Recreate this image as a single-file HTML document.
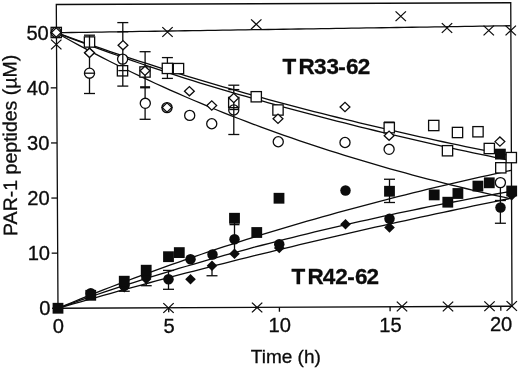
<!DOCTYPE html>
<html><head><meta charset="utf-8"><title>PAR-1 peptides</title>
<style>html,body{margin:0;padding:0;background:#fff}svg{display:block}text{font-family:"Liberation Sans",Arial,Helvetica,sans-serif;fill:#0c0c0c;stroke:#0c0c0c;stroke-width:0.3px}</style></head>
<body>
<svg width="520" height="369" viewBox="0 0 520 369">
<rect width="520" height="369" fill="#fff"/>
<polygon points="56.3,4.5 510.75,2.75 512,306.25 58,308.25" fill="none" stroke="#0c0c0c" stroke-width="1.3"/>
<line x1="52.00" y1="308.25" x2="58.00" y2="308.25" stroke="#0c0c0c" stroke-width="1.3"/>
<text transform="translate(50.40,315.15) scale(1.045,1)" font-size="19.3" text-anchor="end">0</text>
<line x1="51.68" y1="253.15" x2="57.68" y2="253.15" stroke="#0c0c0c" stroke-width="1.3"/>
<text transform="translate(50.08,260.05) scale(1.045,1)" font-size="19.3" text-anchor="end">10</text>
<line x1="51.36" y1="198.05" x2="57.36" y2="198.05" stroke="#0c0c0c" stroke-width="1.3"/>
<text transform="translate(49.76,204.95) scale(1.045,1)" font-size="19.3" text-anchor="end">20</text>
<line x1="51.04" y1="142.95" x2="57.04" y2="142.95" stroke="#0c0c0c" stroke-width="1.3"/>
<text transform="translate(49.44,149.85) scale(1.045,1)" font-size="19.3" text-anchor="end">30</text>
<line x1="50.72" y1="87.85" x2="56.72" y2="87.85" stroke="#0c0c0c" stroke-width="1.3"/>
<text transform="translate(49.12,94.75) scale(1.045,1)" font-size="19.3" text-anchor="end">40</text>
<line x1="50.40" y1="32.75" x2="56.40" y2="32.75" stroke="#0c0c0c" stroke-width="1.3"/>
<text transform="translate(48.80,39.65) scale(1.045,1)" font-size="19.3" text-anchor="end">50</text>
<line x1="58.00" y1="308.25" x2="58.02" y2="312.85" stroke="#0c0c0c" stroke-width="1.3"/>
<text transform="translate(58.30,333.25) scale(1.045,1)" font-size="19.3" text-anchor="middle">0</text>
<line x1="168.70" y1="307.75" x2="168.72" y2="312.35" stroke="#0c0c0c" stroke-width="1.3"/>
<text transform="translate(169.00,332.75) scale(1.045,1)" font-size="19.3" text-anchor="middle">5</text>
<line x1="279.40" y1="307.25" x2="279.42" y2="311.85" stroke="#0c0c0c" stroke-width="1.3"/>
<text transform="translate(279.70,332.25) scale(1.045,1)" font-size="19.3" text-anchor="middle">10</text>
<line x1="390.10" y1="306.75" x2="390.12" y2="311.35" stroke="#0c0c0c" stroke-width="1.3"/>
<text transform="translate(390.40,331.75) scale(1.045,1)" font-size="19.3" text-anchor="middle">15</text>
<line x1="500.80" y1="306.25" x2="500.82" y2="310.85" stroke="#0c0c0c" stroke-width="1.3"/>
<text transform="translate(501.10,331.25) scale(1.045,1)" font-size="19.3" text-anchor="middle">20</text>
<text x="285.8" y="362.6" font-size="19" text-anchor="middle">Time (h)</text>
<text transform="translate(16.7,145.3) rotate(-90.27)" font-size="19.55" text-anchor="middle">PAR-1 peptides (µM)</text>
<text x="282.6" y="74.2" font-size="22.5" font-weight="bold" stroke="none" dx="0 2.2 -0.9 0 -0.6 0.2 -0.9">TR33-62</text>
<text x="291.5" y="283.6" font-size="22.5" font-weight="bold" stroke="none" dx="0 2.2 -0.9 0 -0.6 0.2 -0.9">TR42-62</text>
<polyline points="56.40,32.75 63.96,32.63 71.53,32.52 79.09,32.40 86.66,32.28 94.22,32.17 101.78,32.05 109.35,31.93 116.91,31.82 124.48,31.70 132.04,31.58 139.60,31.47 147.17,31.35 154.73,31.23 162.30,31.11 169.86,31.00 177.42,30.88 184.99,30.76 192.55,30.65 200.12,30.53 207.68,30.41 215.24,30.30 222.81,30.18 230.37,30.06 237.94,29.95 245.50,29.83 253.06,29.71 260.63,29.60 268.19,29.48 275.76,29.36 283.32,29.25 290.88,29.13 298.45,29.01 306.01,28.90 313.58,28.78 321.14,28.66 328.70,28.54 336.27,28.43 343.83,28.31 351.40,28.19 358.96,28.08 366.52,27.96 374.09,27.84 381.65,27.73 389.22,27.61 396.78,27.49 404.34,27.38 411.91,27.26 419.47,27.14 427.04,27.03 434.60,26.91 442.17,26.79 449.73,26.68 457.29,26.56 464.86,26.44 472.42,26.33 479.99,26.21 487.55,26.09 495.11,25.97 502.68,25.86 510.24,25.74" fill="none" stroke="#0c0c0c" stroke-width="1.3" stroke-linejoin="round"/>
<polyline points="56.40,32.75 63.98,35.48 71.56,38.18 79.14,40.85 86.72,43.50 94.30,46.12 101.88,48.71 109.46,51.28 117.04,53.82 124.62,56.33 132.20,58.82 139.78,61.29 147.36,63.73 154.93,66.14 162.51,68.53 170.09,70.89 177.67,73.23 185.25,75.55 192.83,77.85 200.40,80.12 207.98,82.36 215.56,84.59 223.14,86.79 230.71,88.97 238.29,91.13 245.87,93.26 253.45,95.37 261.02,97.47 268.60,99.54 276.18,101.59 283.75,103.61 291.33,105.62 298.91,107.61 306.48,109.58 314.06,111.52 321.63,113.45 329.21,115.36 336.78,117.25 344.36,119.11 351.94,120.96 359.51,122.79 367.09,124.61 374.66,126.40 382.24,128.17 389.81,129.93 397.39,131.67 404.96,133.39 412.54,135.10 420.11,136.78 427.68,138.45 435.26,140.10 442.83,141.74 450.41,143.36 457.98,144.96 465.55,146.54 473.13,148.11 480.70,149.66 488.28,151.20 495.85,152.72 503.42,154.23 511.00,155.72" fill="none" stroke="#0c0c0c" stroke-width="1.3" stroke-linejoin="round"/>
<polyline points="56.40,32.80 63.98,35.70 71.56,38.57 79.14,41.41 86.73,44.23 94.31,47.02 101.89,49.79 109.47,52.53 117.05,55.25 124.63,57.94 132.21,60.61 139.79,63.24 147.37,65.84 154.95,68.40 162.53,70.93 170.11,73.43 177.69,75.88 185.26,78.30 192.84,80.68 200.42,83.03 208.00,85.34 215.58,87.61 223.16,89.86 230.73,92.08 238.31,94.28 245.89,96.45 253.46,98.60 261.04,100.74 268.62,102.85 276.20,104.94 283.77,107.02 291.35,109.08 298.93,111.12 306.50,113.15 314.08,115.15 321.65,117.14 329.23,119.11 336.81,121.05 344.38,122.98 351.96,124.89 359.53,126.78 367.11,128.65 374.69,130.50 382.26,132.32 389.84,134.13 397.41,135.92 404.99,137.70 412.56,139.45 420.14,141.18 427.71,142.89 435.28,144.59 442.86,146.27 450.43,147.93 458.01,149.57 465.58,151.19 473.16,152.80 480.73,154.39 488.30,155.96 495.88,157.52 503.45,159.05 511.02,160.57" fill="none" stroke="#0c0c0c" stroke-width="1.3" stroke-linejoin="round"/>
<polyline points="56.40,32.75 63.99,37.01 71.58,41.21 79.17,45.34 86.76,49.40 94.34,53.40 101.93,57.34 109.52,61.21 117.11,65.03 124.69,68.78 132.28,72.48 139.86,76.11 147.45,79.69 155.03,83.22 162.62,86.69 170.20,90.10 177.79,93.46 185.37,96.76 192.96,100.02 200.54,103.22 208.12,106.38 215.70,109.48 223.29,112.53 230.87,115.54 238.45,118.50 246.03,121.41 253.61,124.28 261.19,127.10 268.78,129.87 276.36,132.61 283.94,135.29 291.52,137.94 299.10,140.55 306.68,143.11 314.26,145.63 321.83,148.12 329.41,150.56 336.99,152.97 344.57,155.34 352.15,157.67 359.73,159.96 367.30,162.22 374.88,164.44 382.46,166.62 390.04,168.77 397.61,170.89 405.19,172.98 412.77,175.03 420.34,177.04 427.92,179.03 435.50,180.99 443.07,182.91 450.65,184.80 458.22,186.67 465.80,188.50 473.37,190.30 480.95,192.08 488.52,193.83 496.10,195.55 503.67,197.24 511.25,198.90" fill="none" stroke="#0c0c0c" stroke-width="1.3" stroke-linejoin="round"/>
<polyline points="58.00,308.25 65.55,305.11 73.09,302.01 80.64,298.94 88.19,295.91 95.73,292.91 103.28,289.94 110.83,287.01 118.38,284.11 125.93,281.24 133.47,278.40 141.02,275.60 148.57,272.82 156.12,270.08 163.67,267.37 171.22,264.68 178.77,262.03 186.32,259.41 193.87,256.82 201.42,254.25 208.97,251.71 216.52,249.21 224.07,246.73 231.62,244.27 239.17,241.85 246.72,239.45 254.27,237.08 261.82,234.73 269.37,232.42 276.92,230.12 284.47,227.85 292.03,225.61 299.58,223.39 307.13,221.20 314.68,219.03 322.23,216.89 329.79,214.77 337.34,212.67 344.89,210.60 352.44,208.54 360.00,206.52 367.55,204.51 375.10,202.53 382.66,200.56 390.21,198.63 397.76,196.71 405.32,194.81 412.87,192.93 420.43,191.08 427.98,189.24 435.53,187.43 443.09,185.63 450.64,183.86 458.20,182.11 465.75,180.37 473.31,178.65 480.86,176.96 488.42,175.28 495.97,173.62 503.53,171.98 511.08,170.35" fill="none" stroke="#0c0c0c" stroke-width="1.3" stroke-linejoin="round"/>
<polyline points="58.00,308.25 65.55,305.54 73.10,302.85 80.65,300.20 88.20,297.59 95.75,295.00 103.30,292.44 110.85,289.92 118.40,287.42 125.95,284.96 133.50,282.52 141.05,280.11 148.60,277.73 156.15,275.38 163.70,273.06 171.25,270.76 178.80,268.49 186.36,266.25 193.91,264.04 201.46,261.85 209.01,259.69 216.56,257.55 224.12,255.44 231.67,253.35 239.22,251.29 246.77,249.26 254.33,247.24 261.88,245.25 269.43,243.29 276.99,241.35 284.54,239.43 292.09,237.53 299.65,235.66 307.20,233.80 314.76,231.97 322.31,230.17 329.87,228.38 337.42,226.61 344.97,224.87 352.53,223.14 360.08,221.44 367.64,219.76 375.19,218.09 382.75,216.45 390.30,214.82 397.86,213.22 405.42,211.63 412.97,210.06 420.53,208.51 428.08,206.98 435.64,205.47 443.19,203.97 450.75,202.50 458.31,201.04 465.86,199.59 473.42,198.17 480.98,196.76 488.53,195.36 496.09,193.99 503.65,192.63 511.20,191.28" fill="none" stroke="#0c0c0c" stroke-width="1.3" stroke-linejoin="round"/>
<polyline points="58.00,308.25 65.55,306.08 73.10,303.91 80.66,301.77 88.21,299.63 95.76,297.51 103.31,295.40 110.87,293.30 118.42,291.21 125.97,289.14 133.52,287.08 141.08,285.03 148.63,283.00 156.18,280.97 163.74,278.96 171.29,276.96 178.84,274.97 186.40,272.99 193.95,271.03 201.50,269.08 209.06,267.14 216.61,265.21 224.16,263.29 231.72,261.38 239.27,259.48 246.82,257.60 254.38,255.73 261.93,253.86 269.48,252.01 277.04,250.17 284.59,248.34 292.15,246.53 299.70,244.72 307.26,242.92 314.81,241.14 322.36,239.36 329.92,237.60 337.47,235.84 345.03,234.10 352.58,232.36 360.14,230.64 367.69,228.93 375.25,227.22 382.80,225.53 390.36,223.85 397.91,222.17 405.47,220.51 413.02,218.86 420.58,217.21 428.13,215.58 435.69,213.96 443.24,212.34 450.80,210.74 458.35,209.14 465.91,207.55 473.46,205.98 481.02,204.41 488.58,202.85 496.13,201.30 503.69,199.76 511.24,198.23" fill="none" stroke="#0c0c0c" stroke-width="1.3" stroke-linejoin="round"/>
<circle cx="56.25" cy="32.50" r="5.05" fill="#fff" stroke="none"/>
<circle cx="89.50" cy="73.20" r="5.05" fill="#fff" stroke="none"/>
<circle cx="122.60" cy="59.10" r="5.05" fill="#fff" stroke="none"/>
<circle cx="145.30" cy="103.30" r="5.05" fill="#fff" stroke="none"/>
<circle cx="167.00" cy="107.60" r="5.05" fill="#fff" stroke="none"/>
<circle cx="189.70" cy="115.40" r="5.05" fill="#fff" stroke="none"/>
<circle cx="211.75" cy="123.75" r="5.05" fill="#fff" stroke="none"/>
<circle cx="233.75" cy="110.00" r="5.05" fill="#fff" stroke="none"/>
<circle cx="278.25" cy="141.75" r="5.05" fill="#fff" stroke="none"/>
<circle cx="345.00" cy="142.50" r="5.05" fill="#fff" stroke="none"/>
<circle cx="389.10" cy="149.30" r="5.05" fill="#fff" stroke="none"/>
<circle cx="500.40" cy="182.60" r="5.05" fill="#fff" stroke="none"/>
<polygon points="51.35,32.50 56.25,27.90 61.15,32.50 56.25,37.10" fill="#fff" stroke="none"/>
<polygon points="84.60,52.80 89.50,48.20 94.40,52.80 89.50,57.40" fill="#fff" stroke="none"/>
<polygon points="118.10,45.20 123.00,40.60 127.90,45.20 123.00,49.80" fill="#fff" stroke="none"/>
<polygon points="140.10,70.80 145.00,66.20 149.90,70.80 145.00,75.40" fill="#fff" stroke="none"/>
<polygon points="162.10,107.50 167.00,102.90 171.90,107.50 167.00,112.10" fill="#fff" stroke="none"/>
<polygon points="184.50,91.20 189.40,86.60 194.30,91.20 189.40,95.80" fill="#fff" stroke="none"/>
<polygon points="206.85,105.50 211.75,100.90 216.65,105.50 211.75,110.10" fill="#fff" stroke="none"/>
<polygon points="228.85,98.00 233.75,93.40 238.65,98.00 233.75,102.60" fill="#fff" stroke="none"/>
<polygon points="273.10,118.75 278.00,114.15 282.90,118.75 278.00,123.35" fill="#fff" stroke="none"/>
<polygon points="340.10,107.00 345.00,102.40 349.90,107.00 345.00,111.60" fill="#fff" stroke="none"/>
<polygon points="384.20,135.70 389.10,131.10 394.00,135.70 389.10,140.30" fill="#fff" stroke="none"/>
<polygon points="495.00,141.60 499.90,137.00 504.80,141.60 499.90,146.20" fill="#fff" stroke="none"/>
<rect x="51.10" y="27.35" width="10.3" height="10.3" fill="#fff" stroke="none"/>
<rect x="84.35" y="36.85" width="10.3" height="10.3" fill="#fff" stroke="none"/>
<rect x="117.35" y="65.65" width="10.3" height="10.3" fill="#fff" stroke="none"/>
<rect x="139.85" y="66.85" width="10.3" height="10.3" fill="#fff" stroke="none"/>
<rect x="162.25" y="63.25" width="10.3" height="10.3" fill="#fff" stroke="none"/>
<rect x="173.35" y="63.45" width="10.3" height="10.3" fill="#fff" stroke="none"/>
<rect x="228.60" y="97.35" width="10.3" height="10.3" fill="#fff" stroke="none"/>
<rect x="251.10" y="91.60" width="10.3" height="10.3" fill="#fff" stroke="none"/>
<rect x="272.85" y="104.85" width="10.3" height="10.3" fill="#fff" stroke="none"/>
<rect x="384.10" y="122.55" width="10.3" height="10.3" fill="#fff" stroke="none"/>
<rect x="428.60" y="120.35" width="10.3" height="10.3" fill="#fff" stroke="none"/>
<rect x="452.35" y="127.35" width="10.3" height="10.3" fill="#fff" stroke="none"/>
<rect x="472.85" y="126.60" width="10.3" height="10.3" fill="#fff" stroke="none"/>
<rect x="442.35" y="145.60" width="10.3" height="10.3" fill="#fff" stroke="none"/>
<rect x="484.15" y="143.35" width="10.3" height="10.3" fill="#fff" stroke="none"/>
<rect x="506.15" y="152.45" width="10.3" height="10.3" fill="#fff" stroke="none"/>
<rect x="495.65" y="162.65" width="10.3" height="10.3" fill="#fff" stroke="none"/>
<line x1="89.5" y1="35.2" x2="89.5" y2="68" stroke="#0c0c0c" stroke-width="1.3"/>
<line x1="84.0" y1="35.2" x2="95.0" y2="35.2" stroke="#0c0c0c" stroke-width="1.3"/>
<line x1="89.5" y1="78.4" x2="89.5" y2="93.5" stroke="#0c0c0c" stroke-width="1.3"/>
<line x1="84.0" y1="73.2" x2="95.0" y2="73.2" stroke="#0c0c0c" stroke-width="1.3"/>
<line x1="84.0" y1="93.5" x2="95.0" y2="93.5" stroke="#0c0c0c" stroke-width="1.3"/>
<line x1="122.8" y1="22.6" x2="122.8" y2="86.1" stroke="#0c0c0c" stroke-width="1.3"/>
<line x1="117.3" y1="22.6" x2="128.3" y2="22.6" stroke="#0c0c0c" stroke-width="1.3"/>
<line x1="117.3" y1="31.8" x2="128.3" y2="31.8" stroke="#0c0c0c" stroke-width="1.3"/>
<line x1="118.3" y1="70.6" x2="127.3" y2="70.6" stroke="#0c0c0c" stroke-width="1.3"/>
<line x1="117.3" y1="86.1" x2="128.3" y2="86.1" stroke="#0c0c0c" stroke-width="1.3"/>
<line x1="145.1" y1="51.7" x2="145.1" y2="119.3" stroke="#0c0c0c" stroke-width="1.3"/>
<line x1="139.6" y1="51.7" x2="150.6" y2="51.7" stroke="#0c0c0c" stroke-width="1.3"/>
<line x1="140.1" y1="87.3" x2="150.1" y2="87.3" stroke="#0c0c0c" stroke-width="2.2"/>
<line x1="139.6" y1="119.3" x2="150.6" y2="119.3" stroke="#0c0c0c" stroke-width="1.3"/>
<line x1="167.4" y1="57.6" x2="167.4" y2="78.4" stroke="#0c0c0c" stroke-width="1.3"/>
<line x1="161.9" y1="57.6" x2="172.9" y2="57.6" stroke="#0c0c0c" stroke-width="1.3"/>
<line x1="161.9" y1="78.4" x2="172.9" y2="78.4" stroke="#0c0c0c" stroke-width="1.3"/>
<line x1="233.8" y1="85.2" x2="233.8" y2="134.5" stroke="#0c0c0c" stroke-width="1.3"/>
<line x1="228.3" y1="85.2" x2="239.3" y2="85.2" stroke="#0c0c0c" stroke-width="1.3"/>
<line x1="228.3" y1="89.6" x2="239.3" y2="89.6" stroke="#0c0c0c" stroke-width="1.3"/>
<line x1="229.3" y1="109.5" x2="238.3" y2="109.5" stroke="#0c0c0c" stroke-width="1.3"/>
<line x1="228.3" y1="134.5" x2="239.3" y2="134.5" stroke="#0c0c0c" stroke-width="1.3"/>
<line x1="389.25" y1="122.3" x2="389.25" y2="123" stroke="#0c0c0c" stroke-width="1.3"/>
<line x1="384.0" y1="122.3" x2="394.5" y2="122.3" stroke="#0c0c0c" stroke-width="1.6"/>
<line x1="124.25" y1="281" x2="124.25" y2="291.25" stroke="#0c0c0c" stroke-width="1.3"/>
<line x1="118.75" y1="291.25" x2="129.75" y2="291.25" stroke="#0c0c0c" stroke-width="1.3"/>
<line x1="146.2" y1="270" x2="146.2" y2="285.7" stroke="#0c0c0c" stroke-width="1.3"/>
<line x1="140.7" y1="285.7" x2="151.7" y2="285.7" stroke="#0c0c0c" stroke-width="1.3"/>
<line x1="168.5" y1="270.4" x2="168.5" y2="289.3" stroke="#0c0c0c" stroke-width="1.3"/>
<line x1="163.0" y1="270.4" x2="174.0" y2="270.4" stroke="#0c0c0c" stroke-width="1.3"/>
<line x1="163.0" y1="289.3" x2="174.0" y2="289.3" stroke="#0c0c0c" stroke-width="1.3"/>
<line x1="212" y1="265.75" x2="212" y2="275.75" stroke="#0c0c0c" stroke-width="1.3"/>
<line x1="206.5" y1="275.75" x2="217.5" y2="275.75" stroke="#0c0c0c" stroke-width="1.3"/>
<line x1="234.5" y1="218" x2="234.5" y2="254" stroke="#0c0c0c" stroke-width="1.3"/>
<line x1="229.5" y1="224.5" x2="239.5" y2="224.5" stroke="#0c0c0c" stroke-width="1.6"/>
<line x1="389.5" y1="179.25" x2="389.5" y2="202.5" stroke="#0c0c0c" stroke-width="1.3"/>
<line x1="384.0" y1="179.25" x2="395.0" y2="179.25" stroke="#0c0c0c" stroke-width="1.3"/>
<line x1="384.0" y1="202.5" x2="395.0" y2="202.5" stroke="#0c0c0c" stroke-width="1.3"/>
<line x1="500.4" y1="182.5" x2="500.4" y2="223.25" stroke="#0c0c0c" stroke-width="1.3"/>
<line x1="494.9" y1="200.5" x2="505.9" y2="200.5" stroke="#0c0c0c" stroke-width="1.3"/>
<line x1="494.9" y1="223.25" x2="505.9" y2="223.25" stroke="#0c0c0c" stroke-width="1.3"/>
<circle cx="56.25" cy="32.50" r="5.05" fill="none" stroke="#0c0c0c" stroke-width="1.3"/>
<circle cx="89.50" cy="73.20" r="5.05" fill="none" stroke="#0c0c0c" stroke-width="1.3"/>
<circle cx="122.60" cy="59.10" r="5.05" fill="none" stroke="#0c0c0c" stroke-width="1.3"/>
<circle cx="145.30" cy="103.30" r="5.05" fill="#fff" stroke="#0c0c0c" stroke-width="1.3"/>
<circle cx="167.00" cy="107.60" r="5.05" fill="none" stroke="#0c0c0c" stroke-width="1.3"/>
<circle cx="189.70" cy="115.40" r="5.05" fill="none" stroke="#0c0c0c" stroke-width="1.3"/>
<circle cx="211.75" cy="123.75" r="5.05" fill="none" stroke="#0c0c0c" stroke-width="1.3"/>
<circle cx="233.75" cy="110.00" r="5.05" fill="none" stroke="#0c0c0c" stroke-width="1.3"/>
<circle cx="278.25" cy="141.75" r="5.05" fill="none" stroke="#0c0c0c" stroke-width="1.3"/>
<circle cx="345.00" cy="142.50" r="5.05" fill="none" stroke="#0c0c0c" stroke-width="1.3"/>
<circle cx="389.10" cy="149.30" r="5.05" fill="none" stroke="#0c0c0c" stroke-width="1.3"/>
<circle cx="500.40" cy="182.60" r="5.05" fill="#fff" stroke="#0c0c0c" stroke-width="1.3"/>
<rect x="51.10" y="27.35" width="10.3" height="10.3" fill="none" stroke="#0c0c0c" stroke-width="1.3"/>
<rect x="84.35" y="36.85" width="10.3" height="10.3" fill="none" stroke="#0c0c0c" stroke-width="1.3"/>
<rect x="117.35" y="65.65" width="10.3" height="10.3" fill="none" stroke="#0c0c0c" stroke-width="1.3"/>
<rect x="139.85" y="66.85" width="10.3" height="10.3" fill="none" stroke="#0c0c0c" stroke-width="1.3"/>
<rect x="162.25" y="63.25" width="10.3" height="10.3" fill="#fff" stroke="#0c0c0c" stroke-width="1.3"/>
<rect x="173.35" y="63.45" width="10.3" height="10.3" fill="none" stroke="#0c0c0c" stroke-width="1.3"/>
<rect x="228.60" y="97.35" width="10.3" height="10.3" fill="none" stroke="#0c0c0c" stroke-width="1.3"/>
<rect x="251.10" y="91.60" width="10.3" height="10.3" fill="none" stroke="#0c0c0c" stroke-width="1.3"/>
<rect x="272.85" y="104.85" width="10.3" height="10.3" fill="none" stroke="#0c0c0c" stroke-width="1.3"/>
<rect x="384.10" y="122.55" width="10.3" height="10.3" fill="none" stroke="#0c0c0c" stroke-width="1.3"/>
<rect x="428.60" y="120.35" width="10.3" height="10.3" fill="none" stroke="#0c0c0c" stroke-width="1.3"/>
<rect x="452.35" y="127.35" width="10.3" height="10.3" fill="none" stroke="#0c0c0c" stroke-width="1.3"/>
<rect x="472.85" y="126.60" width="10.3" height="10.3" fill="none" stroke="#0c0c0c" stroke-width="1.3"/>
<rect x="442.35" y="145.60" width="10.3" height="10.3" fill="none" stroke="#0c0c0c" stroke-width="1.3"/>
<rect x="484.15" y="143.35" width="10.3" height="10.3" fill="none" stroke="#0c0c0c" stroke-width="1.3"/>
<rect x="506.15" y="152.45" width="10.3" height="10.3" fill="none" stroke="#0c0c0c" stroke-width="1.3"/>
<rect x="495.65" y="162.65" width="10.3" height="10.3" fill="none" stroke="#0c0c0c" stroke-width="1.3"/>
<polygon points="51.35,32.50 56.25,27.90 61.15,32.50 56.25,37.10" fill="none" stroke="#0c0c0c" stroke-width="1.3"/>
<polygon points="84.60,52.80 89.50,48.20 94.40,52.80 89.50,57.40" fill="none" stroke="#0c0c0c" stroke-width="1.3"/>
<polygon points="118.10,45.20 123.00,40.60 127.90,45.20 123.00,49.80" fill="#fff" stroke="#0c0c0c" stroke-width="1.3"/>
<polygon points="140.10,70.80 145.00,66.20 149.90,70.80 145.00,75.40" fill="#fff" stroke="#0c0c0c" stroke-width="1.3"/>
<polygon points="162.10,107.50 167.00,102.90 171.90,107.50 167.00,112.10" fill="none" stroke="#0c0c0c" stroke-width="1.3"/>
<polygon points="184.50,91.20 189.40,86.60 194.30,91.20 189.40,95.80" fill="none" stroke="#0c0c0c" stroke-width="1.3"/>
<polygon points="206.85,105.50 211.75,100.90 216.65,105.50 211.75,110.10" fill="none" stroke="#0c0c0c" stroke-width="1.3"/>
<polygon points="228.85,98.00 233.75,93.40 238.65,98.00 233.75,102.60" fill="#fff" stroke="#0c0c0c" stroke-width="1.3"/>
<polygon points="273.10,118.75 278.00,114.15 282.90,118.75 278.00,123.35" fill="#fff" stroke="#0c0c0c" stroke-width="1.3"/>
<polygon points="340.10,107.00 345.00,102.40 349.90,107.00 345.00,111.60" fill="none" stroke="#0c0c0c" stroke-width="1.3"/>
<polygon points="384.20,135.70 389.10,131.10 394.00,135.70 389.10,140.30" fill="#fff" stroke="#0c0c0c" stroke-width="1.3"/>
<polygon points="495.00,141.60 499.90,137.00 504.80,141.60 499.90,146.20" fill="#fff" stroke="#0c0c0c" stroke-width="1.3"/>
<polygon points="84.60,52.80 89.50,48.20 94.40,52.80 89.50,57.40" fill="#fff" stroke="#0c0c0c" stroke-width="1.3"/>
<path d="M51.05,39.60L61.45,49.40M51.05,49.40L61.45,39.60" stroke="#0c0c0c" stroke-width="1.3" fill="none"/>
<path d="M162.30,27.10L172.70,36.90M162.30,36.90L172.70,27.10" stroke="#0c0c0c" stroke-width="1.3" fill="none"/>
<path d="M251.05,19.35L261.45,29.15M251.05,29.15L261.45,19.35" stroke="#0c0c0c" stroke-width="1.3" fill="none"/>
<path d="M395.55,11.35L405.95,21.15M395.55,21.15L405.95,11.35" stroke="#0c0c0c" stroke-width="1.3" fill="none"/>
<path d="M441.80,23.10L452.20,32.90M441.80,32.90L452.20,23.10" stroke="#0c0c0c" stroke-width="1.3" fill="none"/>
<path d="M483.55,25.60L493.95,35.40M483.55,35.40L493.95,25.60" stroke="#0c0c0c" stroke-width="1.3" fill="none"/>
<path d="M505.55,25.60L515.95,35.40M505.55,35.40L515.95,25.60" stroke="#0c0c0c" stroke-width="1.3" fill="none"/>
<path d="M163.30,303.10L173.70,312.90M163.30,312.90L173.70,303.10" stroke="#0c0c0c" stroke-width="1.3" fill="none"/>
<path d="M251.90,302.60L262.30,312.40M251.90,312.40L262.30,302.60" stroke="#0c0c0c" stroke-width="1.3" fill="none"/>
<path d="M396.80,301.60L407.20,311.40M396.80,311.40L407.20,301.60" stroke="#0c0c0c" stroke-width="1.3" fill="none"/>
<path d="M442.80,301.60L453.20,311.40M442.80,311.40L453.20,301.60" stroke="#0c0c0c" stroke-width="1.3" fill="none"/>
<path d="M484.30,301.35L494.70,311.15M484.30,311.15L494.70,301.35" stroke="#0c0c0c" stroke-width="1.3" fill="none"/>
<path d="M506.55,301.10L516.95,310.90M506.55,310.90L516.95,301.10" stroke="#0c0c0c" stroke-width="1.3" fill="none"/>
<polygon points="118.95,287.30 124.25,282.00 129.55,287.30 124.25,292.60" fill="#0c0c0c"/>
<polygon points="140.90,279.00 146.20,273.70 151.50,279.00 146.20,284.30" fill="#0c0c0c"/>
<polygon points="185.20,279.30 190.50,274.00 195.80,279.30 190.50,284.60" fill="#0c0c0c"/>
<polygon points="206.70,265.75 212.00,260.45 217.30,265.75 212.00,271.05" fill="#0c0c0c"/>
<polygon points="229.20,253.75 234.50,248.45 239.80,253.75 234.50,259.05" fill="#0c0c0c"/>
<polygon points="273.95,248.00 279.25,242.70 284.55,248.00 279.25,253.30" fill="#0c0c0c"/>
<polygon points="340.20,224.25 345.50,218.95 350.80,224.25 345.50,229.55" fill="#0c0c0c"/>
<polygon points="384.20,227.50 389.50,222.20 394.80,227.50 389.50,232.80" fill="#0c0c0c"/>
<polygon points="506.45,195.20 511.75,189.90 517.05,195.20 511.75,200.50" fill="#0c0c0c"/>
<circle cx="90.75" cy="293.30" r="5.25" fill="#0c0c0c"/>
<circle cx="124.25" cy="285.50" r="5.25" fill="#0c0c0c"/>
<circle cx="146.20" cy="276.00" r="5.25" fill="#0c0c0c"/>
<circle cx="168.50" cy="279.30" r="5.25" fill="#0c0c0c"/>
<circle cx="190.50" cy="259.20" r="5.25" fill="#0c0c0c"/>
<circle cx="212.50" cy="254.50" r="5.25" fill="#0c0c0c"/>
<circle cx="234.50" cy="239.25" r="5.25" fill="#0c0c0c"/>
<circle cx="279.25" cy="244.25" r="5.25" fill="#0c0c0c"/>
<circle cx="345.50" cy="190.50" r="5.25" fill="#0c0c0c"/>
<circle cx="389.50" cy="218.75" r="5.25" fill="#0c0c0c"/>
<circle cx="500.50" cy="207.50" r="5.25" fill="#0c0c0c"/>
<rect x="52.60" y="302.85" width="10.8" height="10.8" fill="#0c0c0c"/>
<rect x="85.35" y="289.90" width="10.8" height="10.8" fill="#0c0c0c"/>
<rect x="118.85" y="275.80" width="10.8" height="10.8" fill="#0c0c0c"/>
<rect x="140.80" y="264.80" width="10.8" height="10.8" fill="#0c0c0c"/>
<rect x="163.10" y="251.30" width="10.8" height="10.8" fill="#0c0c0c"/>
<rect x="173.90" y="247.20" width="10.8" height="10.8" fill="#0c0c0c"/>
<rect x="229.10" y="212.85" width="10.8" height="10.8" fill="#0c0c0c"/>
<rect x="251.35" y="227.10" width="10.8" height="10.8" fill="#0c0c0c"/>
<rect x="273.60" y="192.85" width="10.8" height="10.8" fill="#0c0c0c"/>
<rect x="384.10" y="185.85" width="10.8" height="10.8" fill="#0c0c0c"/>
<rect x="428.80" y="189.50" width="10.8" height="10.8" fill="#0c0c0c"/>
<rect x="442.40" y="196.80" width="10.8" height="10.8" fill="#0c0c0c"/>
<rect x="452.50" y="188.10" width="10.8" height="10.8" fill="#0c0c0c"/>
<rect x="472.50" y="180.70" width="10.8" height="10.8" fill="#0c0c0c"/>
<rect x="483.90" y="177.40" width="10.8" height="10.8" fill="#0c0c0c"/>
<rect x="495.00" y="148.70" width="10.8" height="10.8" fill="#0c0c0c"/>
<rect x="506.30" y="185.60" width="10.8" height="10.8" fill="#0c0c0c"/>
</svg></body></html>
